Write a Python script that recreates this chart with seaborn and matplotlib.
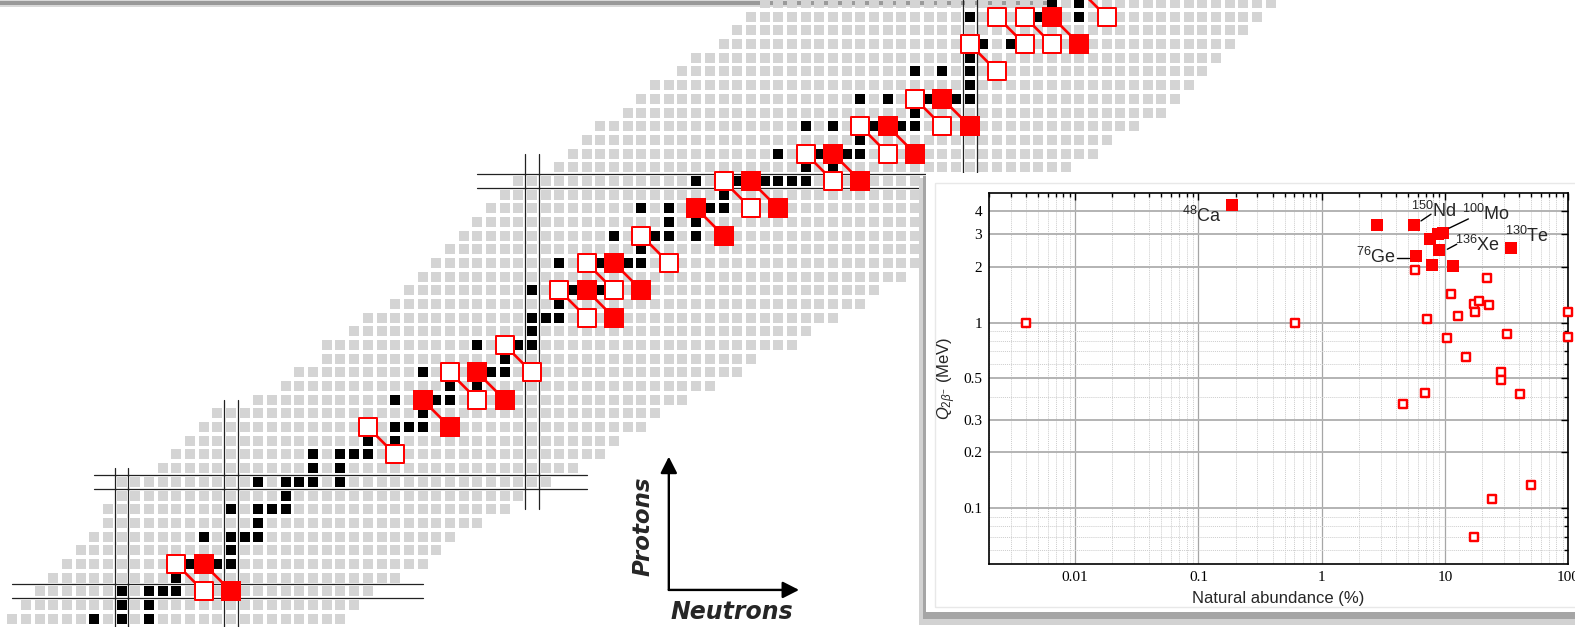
import numpy as np
import pandas as pd
import seaborn as sns
import matplotlib.pyplot as plt
from matplotlib.patches import Rectangle
from matplotlib.ticker import NullFormatter

sns.set_style("white")
plt.rcParams['font.family'] = ['Liberation Sans', 'DejaVu Sans']
plt.rcParams['mathtext.fontset'] = 'custom'
plt.rcParams['mathtext.rm'] = 'Liberation Sans'
plt.rcParams['mathtext.it'] = 'Liberation Sans:italic'
plt.rcParams['mathtext.bf'] = 'Liberation Sans:bold'

# ---- chart of nuclides ----
# known nuclides: first / last neutron number for each proton number
z_rows = list(range(18, 65))
n_first = [12, 13, 14, 15, 16, 17, 18, 19, 19, 20, 20,
           23, 24, 25, 26, 27, 30,
           32, 33, 35, 35, 37,
           38, 40, 41, 42, 43, 44, 45, 46, 47, 48, 49,
           52, 53, 54, 55, 57, 58, 59, 61, 62, 64, 65, 66, 67, 69]
n_last = [36, 37, 38, 40, 42, 43, 44, 46, 48, 49, 51,
          53, 55, 56, 58, 59, 61,
          63, 65, 66, 69, 70,
          72, 74, 75, 77, 80, 81, 82, 83, 85, 86, 88,
          89, 91, 92, 94, 96, 97, 98, 99, 100, 101, 102, 103, 104, 105]

# stable nuclides (black), neutron numbers per element
stable_el_z = [18, 19, 20, 21, 22, 23, 24, 25, 26, 27, 28, 29, 30, 31, 32, 33, 34, 35,
               36, 37, 38, 39, 40, 41, 42, 44, 45, 46, 47, 48, 49, 50, 51, 52, 53, 54,
               55, 56, 57, 58, 59, 60, 62, 63, 64]
stable_el_n = [
    [18, 20, 22], [20, 22], [20, 22, 23, 24, 26, 28], [24], [24, 25, 26, 27, 28],
    [28], [26, 28, 29, 30], [30], [28, 30, 31, 32], [32], [30, 32, 33, 34, 36],
    [34, 36], [34, 36, 37, 38, 40], [38, 40], [38, 40, 41, 42, 44], [42],
    [40, 42, 43, 44, 46, 48], [44, 46], [42, 44, 46, 47, 48, 50], [48],
    [46, 48, 49, 50], [50], [50, 51, 52, 54, 56], [52], [50, 52, 53, 54, 55, 56, 58],
    [52, 54, 55, 56, 57, 58, 60], [58], [56, 58, 59, 60, 62, 64], [60, 62],
    [58, 60, 62, 63, 64, 66, 68], [64], [62, 64, 65, 66, 67, 68, 69, 70, 72, 74],
    [70, 72], [68, 70, 71, 72, 73, 74, 76, 78], [74],
    [70, 72, 74, 75, 76, 77, 78, 80, 82], [78], [74, 76, 78, 79, 80, 81, 82], [82],
    [78, 80, 82, 84], [82], [82, 83, 85, 86, 88, 90], [82, 87, 88, 90, 92], [88, 90],
    [90, 91, 92, 93, 94, 96],
]

# double beta minus emitters (parent Z, N); daughter is (Z+2, N-2)
dbd_z = [20, 20, 30, 32, 34, 34, 36, 40, 40, 42, 42, 44, 46, 48,
         48, 50, 50, 52, 52, 54, 54, 58, 60, 60, 60, 62, 64]
dbd_n = [26, 28, 40, 44, 46, 48, 50, 54, 56, 56, 58, 60, 64, 66,
         68, 72, 74, 76, 78, 80, 82, 84, 86, 88, 90, 92, 96]
dbd_best = [0, 1, 0, 1, 0, 1, 0, 0, 1, 0, 1, 0, 1, 0,
            1, 0, 1, 0, 1, 0, 1, 0, 0, 0, 1, 0, 0]

# magic number guide lines: (magic, from, to)
z_magic = [(20, 12, 42), (28, 18, 54), (50, 46, 92)]
n_magic = [(20, 16, 29), (28, 16, 34), (50, 26, 52), (82, 46, 66)]

# ---- inset: Q value vs natural abundance ----
iso_names = ['46Ca', '48Ca', '70Zn', '76Ge', '80Se', '82Se', '86Kr', '94Zr', '96Zr',
             '98Mo', '100Mo', '104Ru', '110Pd', '114Cd', '116Cd', '122Sn', '124Sn',
             '128Te', '130Te', '134Xe', '136Xe', '142Ce', '146Nd', '148Nd', '150Nd',
             '154Sm', '160Gd', '170Er', '176Yb', '186W', '192Os', '198Pt', '204Hg',
             '232Th', '238U']
abundance = [0.004, 0.187, 0.61, 7.8, 49.6, 8.8, 17.3, 17.4, 2.8, 24.1, 9.6, 18.7,
             11.7, 28.7, 7.5, 4.6, 5.8, 31.7, 34.1, 10.4, 8.9, 11.1, 17.2, 5.7, 5.6,
             22.7, 21.9, 14.9, 12.8, 28.4, 40.8, 7.2, 6.9, 100.0, 99.3]
q_value = [0.99, 4.27, 1.00, 2.04, 0.134, 3.00, 1.26, 1.14, 3.36, 0.113, 3.03, 1.30,
           2.02, 0.545, 2.81, 0.366, 2.29, 0.866, 2.53, 0.826, 2.46, 1.42, 0.070,
           1.93, 3.37, 1.25, 1.73, 0.654, 1.09, 0.491, 0.414, 1.05, 0.416, 0.84, 1.14]
best = [0, 1, 0, 1, 0, 1, 0, 0, 1, 0, 1, 0, 1, 0, 1, 0, 1, 0, 1, 0, 1, 0, 0, 0, 1,
        0, 0, 0, 0, 0, 0, 0, 0, 0, 0]

W, H = 1575, 627
fig = plt.figure(figsize=(W / 100, H / 100), dpi=100)
fig.patch.set_facecolor('white')


def px_rect(left, top, right, bottom, **kw):
    # rectangle in figure pixels measured from the top-left corner
    return Rectangle((left / W, 1 - bottom / H), (right - left) / W, (bottom - top) / H,
                     transform=fig.transFigure, **kw)


# faint slide shadow on top edge
fig.add_artist(px_rect(0, 0, 1050, 7, color='#d9d9d9', lw=0, zorder=-2))
fig.add_artist(px_rect(0, 1.5, 1050, 5, color='#9a9a9a', lw=0, zorder=-2))

ax = fig.add_axes([0, 0, 1, 1], zorder=0)
ax.patch.set_alpha(0)
ax.set_xlim(11.111, 126.24)
ax.set_ylim(17.39, 63.224)
ax.axis('off')

cells = pd.DataFrame([(n, z) for z, a, b in zip(z_rows, n_first, n_last)
                      for n in range(a, b + 1)], columns=['N', 'Z'])
sns.scatterplot(data=cells, x='N', y='Z', marker='s', s=52, color='#d4d4d4',
                linewidth=0, ax=ax, zorder=1)

stable = pd.DataFrame([(n, z) for z, ns in zip(stable_el_z, stable_el_n) for n in ns],
                      columns=['N', 'Z'])
sns.scatterplot(data=stable, x='N', y='Z', marker='s', s=46, color='black',
                linewidth=0, ax=ax, zorder=2)

for m, a, b in z_magic:
    for off in (-0.5, 0.5):
        ax.plot([a, b], [m + off, m + off], color='#222222', lw=0.9, zorder=2.5)
for m, a, b in n_magic:
    for off in (-0.5, 0.5):
        ax.plot([m + off, m + off], [a, b], color='#222222', lw=0.9, zorder=2.5)

for z, n in zip(dbd_z, dbd_n):
    ax.plot([n, n - 2], [z, z + 2], color='red', lw=1.9, zorder=3, solid_capstyle='butt')

pairs = pd.DataFrame({
    'N': dbd_n + [n - 2 for n in dbd_n],
    'Z': dbd_z + [z + 2 for z in dbd_z],
    'best': dbd_best + dbd_best,
})
sns.scatterplot(data=pairs[pairs.best == 1], x='N', y='Z', marker='s', s=197,
                color='red', linewidth=0, ax=ax, zorder=4)
sns.scatterplot(data=pairs[pairs.best == 0], x='N', y='Z', marker='s', s=150,
                facecolor='white', edgecolor='red', linewidth=1.44, ax=ax, zorder=4)

# axes arrows
arrow_kw = dict(arrowstyle='-|>,head_length=0.55,head_width=0.28', mutation_scale=18,
                lw=1.7, color='black', shrinkA=0, shrinkB=0)
ax.annotate('', xy=(60.0, 29.84), xytext=(60.0, 20.1), arrowprops=arrow_kw, zorder=4)
ax.annotate('', xy=(69.52, 20.1), xytext=(60.0, 20.1), arrowprops=arrow_kw, zorder=4)
ax.text(58.14, 24.72, 'Protons', rotation=90, ha='center', va='center', fontsize=16.5,
        fontweight='heavy', style='italic', family='DejaVu Sans')
ax.text(64.6, 18.51, 'Neutrons', ha='center', va='center', fontsize=17,
        fontweight='heavy', style='italic', family='DejaVu Sans')

# inset card with drop shadow
fig.add_artist(px_rect(919, 178, 1580, 625, color='#d2d2d2', lw=0, zorder=2))
fig.add_artist(px_rect(923, 176, 1580, 619, color='#a5a5a5', lw=0, zorder=2))
fig.add_artist(px_rect(926, 173, 1580, 612, color='white', lw=0, zorder=2))
fig.add_artist(px_rect(935, 183, 1580, 607, facecolor='none', edgecolor='#e8e8e8',
                       lw=1, zorder=2))

ins = fig.add_axes([989 / W, 1 - 564.3 / H, (1568.3 - 989) / W, (564.3 - 192.7) / H],
                   zorder=3)
ins.set_xscale('log')
ins.set_yscale('log')

inset_df = pd.DataFrame({'name': iso_names, 'abundance': abundance,
                         'Q': q_value, 'best': best})
sns.scatterplot(data=inset_df[inset_df.best == 0], x='abundance', y='Q', marker='s',
                s=40, facecolor='white', edgecolor='red', linewidth=1.75, ax=ins,
                zorder=4, clip_on=False)
sns.scatterplot(data=inset_df[inset_df.best == 1], x='abundance', y='Q', marker='s',
                s=76, color='red', linewidth=0, ax=ins, zorder=4, clip_on=False)

ins.set_xlim(0.002, 100)
ins.set_ylim(0.05, 5)
ins.set_xlabel('')
ins.set_ylabel('')

serif = dict(fontfamily='Liberation Serif', fontsize=11)
ins.set_xticks([0.01, 0.1, 1, 10, 100], labels=['0.01', '0.1', '1', '10', '100'], **serif)
x_minor = [k * 10.0 ** e for e in range(-3, 2) for k in range(2, 10) if k * 10.0 ** e >= 0.002]
ins.set_xticks(x_minor, minor=True)
ins.set_yticks([0.1, 0.2, 0.3, 0.5, 1, 2, 3, 4],
               labels=['0.1', '0.2', '0.3', '0.5', '1', '2', '3', '4'], **serif)
ins.set_yticks([0.06, 0.07, 0.08, 0.09, 0.4, 0.6, 0.7, 0.8, 0.9], minor=True)
ins.xaxis.set_minor_formatter(NullFormatter())
ins.yaxis.set_minor_formatter(NullFormatter())

ins.tick_params(which='both', direction='in', top=True, right=True, width=1,
                color='black', labelcolor='black')
ins.tick_params(which='major', length=5, pad=5)
ins.tick_params(which='minor', length=3)
ins.set_axisbelow(True)
ins.grid(which='major', axis='x', color='#a6a6a6', lw=0.9)
ins.grid(which='minor', axis='x', color='#cdcdcd', lw=0.7, ls=(0, (1, 1)))
ins.grid(which='major', axis='y', color='#b3b3b3', lw=1.4)
ins.grid(which='minor', axis='y', color='#cdcdcd', lw=0.7, ls=(0, (1, 1)))
for sp in ins.spines.values():
    sp.set_color('black')
    sp.set_linewidth(1.2)

ins.text(0.5, -0.0907, 'Natural abundance (%)', transform=ins.transAxes,
         ha='center', va='center', fontsize=12)
ins.text(-0.073, 0.5, r'$Q_{2\beta^{-}}$ (MeV)', transform=ins.transAxes,
         ha='center', va='center', rotation=90, fontsize=12)

lab = dict(fontsize=13, va='baseline')
ins.text(0.1532, 3.494, r'$^{48}$Ca', ha='right', **lab)
ins.text(5.265, 3.718, r'$^{150}$Nd', ha='left', **lab)
ins.text(13.82, 3.568, r'$^{100}$Mo', ha='left', **lab)
ins.text(12.06, 2.439, r'$^{136}$Xe', ha='left', **lab)
ins.text(30.72, 2.727, r'$^{130}$Te', ha='left', **lab)
ins.text(3.977, 2.086, r'$^{76}$Ge', ha='right', **lab)
for (x0, y0), (x1, y1) in [((6.383, 3.524), (7.697, 3.831)),
                           ((10.78, 3.220), (15.47, 3.613)),
                           ((10.44, 2.481), (12.45, 2.640)),
                           ((4.052, 2.236), (5.100, 2.236))]:
    ins.plot([x0, x1], [y0, y1], color='black', lw=1, zorder=5)

fig.savefig('out.png', dpi=100, facecolor='white')
